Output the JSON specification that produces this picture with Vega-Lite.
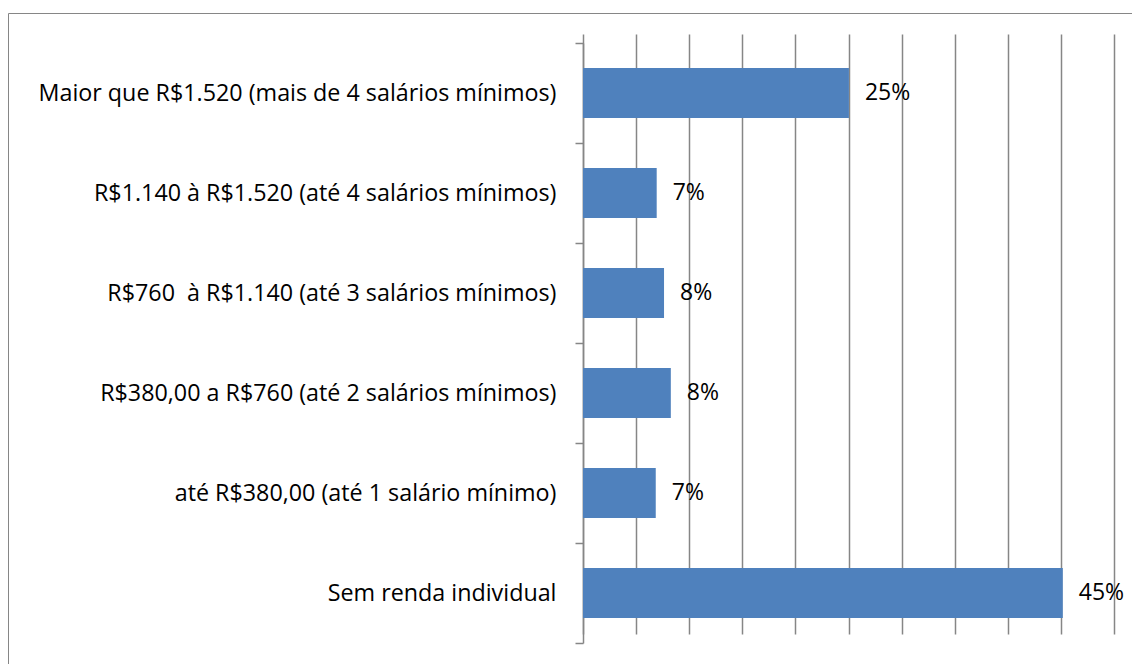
{
  "$schema": "https://vega.github.io/schema/vega-lite/v6.json",
  "width": 1124,
  "height": 651,
  "autosize": {"type": "none"},
  "padding": {"left": 8, "top": 13, "right": 0, "bottom": 0},
  "background": "white",
  "config": {
    "view": {"stroke": "#868686", "strokeWidth": 1},
    "font": "Open Sans"
  },
  "data": {
    "values": [
      {"faixa": "Maior que R$1.520 (mais de 4 salários mínimos)", "share": 0.2504},
      {"faixa": "R$1.140 à R$1.520 (até 4 salários mínimos)", "share": 0.0694},
      {"faixa": "R$760\u00a0 à R$1.140 (até 3 salários mínimos)", "share": 0.0763},
      {"faixa": "R$380,00 a R$760 (até 2 salários mínimos)", "share": 0.0827},
      {"faixa": "até R$380,00 (até 1 salário mínimo)", "share": 0.0685},
      {"faixa": "Sem renda individual", "share": 0.4518}
    ]
  },
  "encoding": {
    "y": {
      "field": "faixa",
      "type": "nominal",
      "sort": null,
      "scale": {"range": [30, 630], "paddingInner": 0, "paddingOuter": 0},
      "axis": {
        "title": null,
        "orient": "left",
        "offset": -575,
        "tickBand": "extent",
        "tickSize": 8,
        "tickColor": "#868686",
        "tickWidth": 1.5,
        "domainColor": "#868686",
        "domainWidth": 1.5,
        "labelPadding": 19,
        "labelFontSize": 23.3,
        "labelFont": "Open Sans",
        "labelColor": "#000000",
        "labelLimit": 0,
        "grid": false
      }
    },
    "x": {
      "field": "share",
      "type": "quantitative",
      "scale": {"domain": [0, 0.5], "range": [575, 1106], "nice": false, "zero": true},
      "axis": {
        "title": null,
        "values": [0, 0.05, 0.1, 0.15, 0.2, 0.25, 0.3, 0.35, 0.4, 0.45, 0.5],
        "grid": true,
        "gridColor": "#868686",
        "gridOpacity": 1,
        "gridWidth": 1.5,
        "labels": false,
        "ticks": false,
        "domain": false
      }
    }
  },
  "layer": [
    {"mark": {"type": "bar", "color": "#4F81BD", "height": {"band": 0.5}}},
    {
      "mark": {"type": "text", "align": "left", "baseline": "middle", "dx": 16, "fontSize": 23, "font": "Open Sans", "color": "#000000"},
      "encoding": {"text": {"field": "share", "type": "quantitative", "format": ".0%"}}
    }
  ]
}
